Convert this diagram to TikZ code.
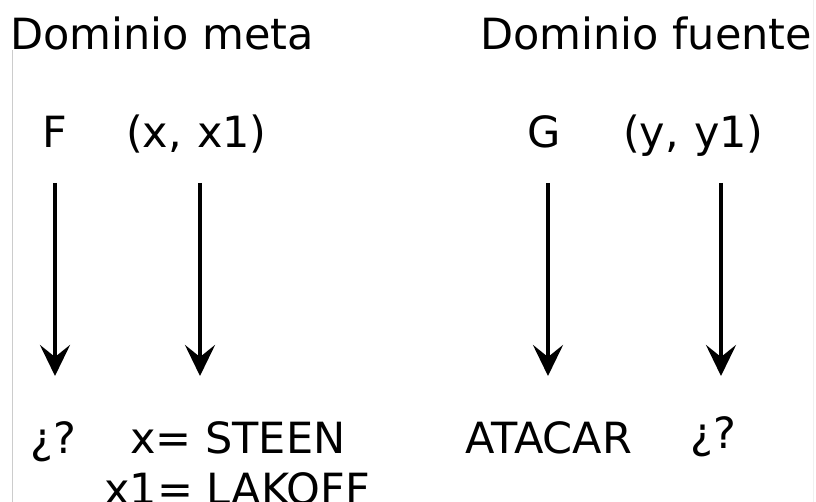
\documentclass[tikz,border=0pt]{standalone}
\usepackage{fontspec}
\setmainfont{DejaVu Sans}
\usetikzlibrary{arrows.meta}
\begin{document}
\begin{tikzpicture}[x=1pt,y=-1pt,
  lbl/.style={anchor=base west,inner sep=0pt,font=\fontsize{43}{50}\selectfont},
  arr/.style={line width=4pt,-{Stealth[length=31pt,width=30pt,inset=12pt]}}]
\useasboundingbox (0,0) rectangle (816,502);
\fill[white] (0,0) rectangle (816,502);
\draw[black!20,line width=1pt] (12.5,50) -- (12.5,502);
\draw[black!6,line width=1pt] (813,0) -- (813,502);
% headings
\node[lbl] (tmeta) at (10,50) {Dominio meta};
\node[lbl] (tfuente) at (480,50) {Dominio fuente};
% top row
\node[lbl] (F) at (42,148) {F};
\node[lbl] (X) at (126,148) {(x,\hspace{0.35em}x1)};
\node[lbl] (G) at (527,148) {G};
\node[lbl] (Y) at (623,148) {(y,\hspace{0.35em}y1)};
% bottom row
\node[lbl] (q1) at (30,453) {¿?};
\node[lbl] (steen) at (130,453) {x= STEEN};
\node[lbl] (lakoff) at (104,504) {x1= LAKOFF};
\node[lbl] (atacar) at (465,453) {ATACAR};
\node[lbl] (q2) at (690,448) {¿?};
% arrows
\coordinate (a1s) at (55,183);  \coordinate (a1e) at (55,376);
\coordinate (a2s) at (200,183); \coordinate (a2e) at (200,376);
\coordinate (a3s) at (548,183); \coordinate (a3e) at (548,376);
\coordinate (a4s) at (721,183); \coordinate (a4e) at (721,376);
\draw[arr] (a1s) -- (a1e);
\draw[arr] (a2s) -- (a2e);
\draw[arr] (a3s) -- (a3e);
\draw[arr] (a4s) -- (a4e);
\end{tikzpicture}
\end{document}
